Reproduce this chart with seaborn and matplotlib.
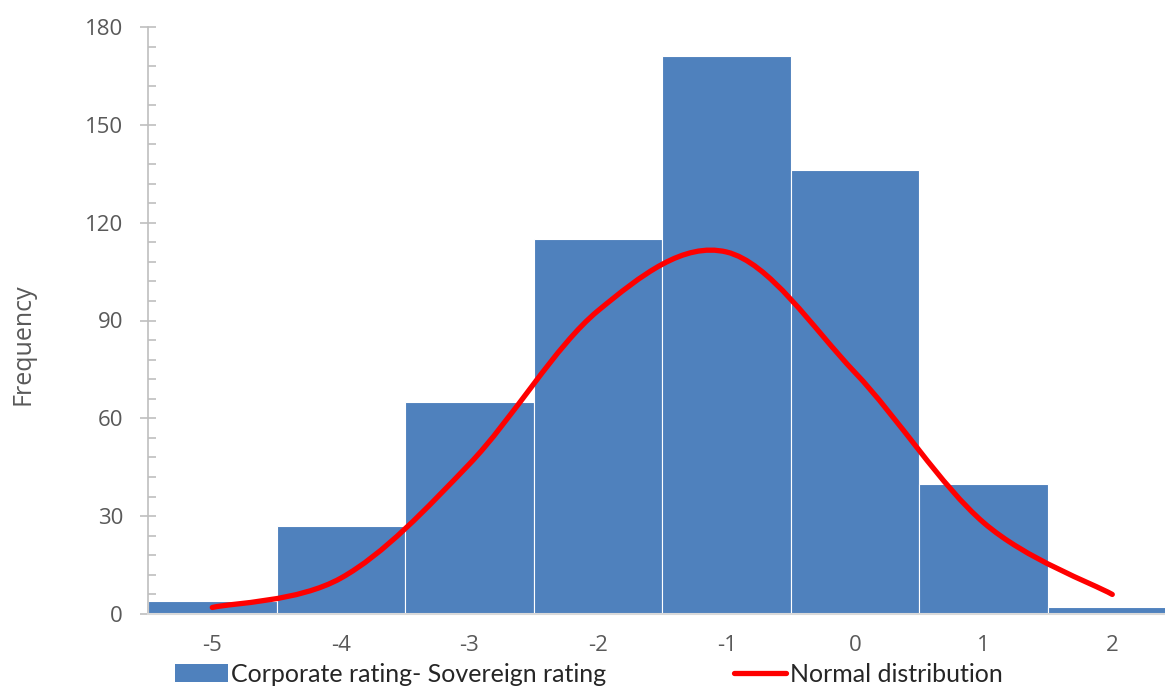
import numpy as np
import pandas as pd
import matplotlib
matplotlib.use("Agg")
import matplotlib.pyplot as plt
import seaborn as sns
from matplotlib.path import Path
from matplotlib.patches import PathPatch, Patch
from matplotlib.lines import Line2D

# data
rating_diff = [-5, -4, -3, -2, -1, 0, 1, 2]
frequency = [4, 27, 65, 115, 171, 136, 40, 2]
normal_fit = [2, 11, 46, 93, 111, 74, 28, 6]

bar_color = '#4F81BD'
grey_text = '#595959'

sns.set_style('white')
plt.rcParams['font.family'] = ['Open Sans', 'DejaVu Sans']

fig = plt.figure(figsize=(11.65, 6.88), dpi=100)
ax = fig.add_axes([148 / 1165, 74 / 688, 1 - 148 / 1165, (614 - 27) / 688])

df = pd.DataFrame({'diff': rating_diff, 'freq': frequency})
sns.histplot(data=df, x='diff', weights='freq', discrete=True, ax=ax,
             color=bar_color, alpha=1, edgecolor='white', linewidth=0.8)

# smoothed line through the fitted values (catmull-rom style bezier, like Excel)
pts = np.column_stack([rating_diff, normal_fit]).astype(float)
verts = [tuple(pts[0])]
codes = [Path.MOVETO]
for i in range(len(pts) - 1):
    p0 = pts[i - 1] if i > 0 else pts[i]
    p1, p2 = pts[i], pts[i + 1]
    p3 = pts[i + 2] if i + 2 < len(pts) else pts[i + 1]
    c1 = p1 + (p2 - p0) / 6
    c2 = p2 - (p3 - p1) / 6
    verts += [tuple(c1), tuple(c2), tuple(p2)]
    codes += [Path.CURVE4] * 3
ax.add_patch(PathPatch(Path(verts, codes), facecolor='none', edgecolor='#FF0000',
                       linewidth=3.8, capstyle='round', joinstyle='round', zorder=5))

ax.set_xlim(-5.5, 2.41)
ax.set_ylim(0, 180)

# x: tick marks at bin edges, labels at integers
ax.set_xticks(np.arange(-4.5, 2.0, 1.0))
ax.set_xticklabels([])
ax.set_xticks(rating_diff, minor=True)
ax.set_xticklabels([str(v) for v in rating_diff], minor=True)
ax.tick_params(axis='x', which='major', direction='in', length=9, width=1.2,
               color='#D9D9D9', bottom=True)
ax.tick_params(axis='x', which='minor', length=0, pad=15, labelsize=16,
               labelcolor=grey_text)

ax.set_yticks(np.arange(0, 181, 30))
ax.set_yticks(np.arange(0, 181, 6), minor=True)
ax.tick_params(axis='y', which='major', direction='inout', length=12, width=1.2,
               color='#BFBFBF', left=True, labelsize=16, labelcolor=grey_text, pad=12)
ax.tick_params(axis='y', which='minor', direction='in', length=6, width=1.2,
               color='#BFBFBF', left=True)

for s in ['top', 'right']:
    ax.spines[s].set_visible(False)
ax.spines['left'].set_color('#BFBFBF')
ax.spines['left'].set_linewidth(1.2)
ax.spines['bottom'].set_color('#D9D9D9')
ax.spines['bottom'].set_linewidth(1.5)

ax.set_xlabel('')
ax.set_ylabel('Frequency', fontsize=18, color=grey_text)
ax.yaxis.set_label_coords(-0.111, 0.46)

handles = [Patch(facecolor=bar_color, edgecolor='none'),
           Line2D([0], [0], color='#FF0000', linewidth=3.8, solid_capstyle='round')]
fig.legend(handles, ['Corporate rating- Sovereign rating', 'Normal distribution'],
           loc='lower left', bbox_to_anchor=(175 / 1165, 0.003), ncol=2, frameon=False,
           prop={'family': ['Lato', 'DejaVu Sans'], 'size': 18}, handlelength=2.1,
           handleheight=0.75, handletextpad=0.15, columnspacing=5.1, borderpad=0,
           borderaxespad=0)

fig.savefig('out.png', dpi=100)
